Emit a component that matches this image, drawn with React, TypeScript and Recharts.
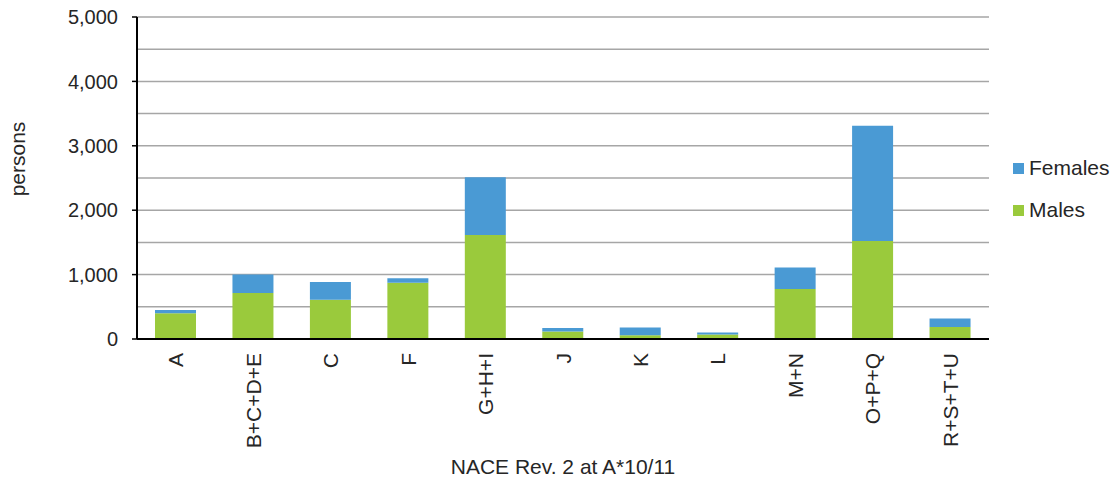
import { BarChart, Bar, XAxis, YAxis, CartesianGrid, Legend } from "recharts";

const categories = ["A", "B+C+D+E", "C", "F", "G+H+I", "J", "K", "L", "M+N", "O+P+Q", "R+S+T+U"];
const males = [400, 715, 610, 875, 1615, 115, 60, 70, 775, 1520, 185];
const females = [50, 285, 275, 70, 895, 55, 120, 30, 335, 1790, 135];
const yTicks = [0, 500, 1000, 1500, 2000, 2500, 3000, 3500, 4000, 4500, 5000];
const legendOrder = ["Females", "Males"];

const FONT = "'Liberation Sans', Arial, sans-serif";
const TEXT = "#262626";
const BLUE = "#4a9ad4";
const GREEN = "#9aca3c";

const data = categories.map((c, i) => ({ cat: c, males: males[i], females: females[i] }));

const CatTick = (props: any) => {
  const { x, y, payload } = props;
  return (
    <text
      x={x}
      y={y + 14}
      dy="0.36em"
      transform={`rotate(-90, ${x}, ${y + 14})`}
      textAnchor="end"
      fontSize={21}
      fill={TEXT}
      fontFamily={FONT}
    >
      {payload.value}
    </text>
  );
};

// only every second tick (the thousands) gets a label and a tick mark
const ValueTick = (props: any) => {
  const { x, y, payload } = props;
  if (payload.value % 1000 !== 0) return <g />;
  return (
    <g>
      <line x1={x - 5} x2={x} y1={y} y2={y} stroke="#000" strokeWidth={1.5} />
      <text x={x - 19} y={y} dy="0.355em" textAnchor="end" fontSize={20} fill={TEXT} fontFamily={FONT}>
        {payload.value.toLocaleString("en-US")}
      </text>
    </g>
  );
};

const LegendBox = (props: any) => {
  const items = [...(props.payload || [])].sort(
    (a: any, b: any) => legendOrder.indexOf(a.value) - legendOrder.indexOf(b.value)
  );
  return (
    <div style={{ fontFamily: FONT, fontSize: 21, color: TEXT }}>
      {items.map((it: any) => (
        <div key={it.value} style={{ display: "flex", alignItems: "center", height: 42 }}>
          <span style={{ width: 11, height: 11, background: it.color, display: "inline-block", marginRight: 5 }} />
          <span>{it.value}</span>
        </div>
      ))}
    </div>
  );
};

export default function App() {
  return (
    <div style={{ position: "absolute", left: 0, top: 0, width: 1115, height: 485, background: "#fff" }}>
      <BarChart
        width={1115}
        height={485}
        data={data}
        margin={{ top: 17, right: 126, bottom: 0, left: 0 }}
        barSize={41}
      >
        <CartesianGrid vertical={false} stroke="#a6a6a6" strokeWidth={1.5} />
        <XAxis
          dataKey="cat"
          height={146}
          interval={0}
          tickLine={false}
          tickSize={0}
          tickMargin={0}
          axisLine={{ stroke: "#000", strokeWidth: 2 }}
          tick={<CatTick />}
          label={{
            value: "NACE Rev. 2 at A*10/11",
            position: "insideBottom",
            offset: 11,
            fontSize: 21,
            fill: TEXT,
            fontFamily: FONT,
          }}
        />
        <YAxis
          width={137}
          domain={[0, 5000]}
          ticks={yTicks}
          interval={0}
          tickSize={0}
          tickMargin={0}
          tickLine={false}
          axisLine={{ stroke: "#000", strokeWidth: 2 }}
          tick={<ValueTick />}
          label={{
            content: ({ viewBox }: any) => (
              <text
                x={17}
                y={viewBox.y + 142}
                transform={`rotate(-90, 17, ${viewBox.y + 142})`}
                textAnchor="middle"
                dy="0.36em"
                fontSize={21}
                fill={TEXT}
                fontFamily={FONT}
              >
                persons
              </text>
            ),
          }}
        />
        <Legend
          layout="vertical"
          align="center"
          verticalAlign="middle"
          content={<LegendBox />}
          wrapperStyle={{ position: "absolute", left: 1013, top: 147, width: 102 }}
        />
        <Bar dataKey="males" name="Males" stackId="a" fill={GREEN} isAnimationActive={false} />
        <Bar dataKey="females" name="Females" stackId="a" fill={BLUE} isAnimationActive={false} />
      </BarChart>
    </div>
  );
}
